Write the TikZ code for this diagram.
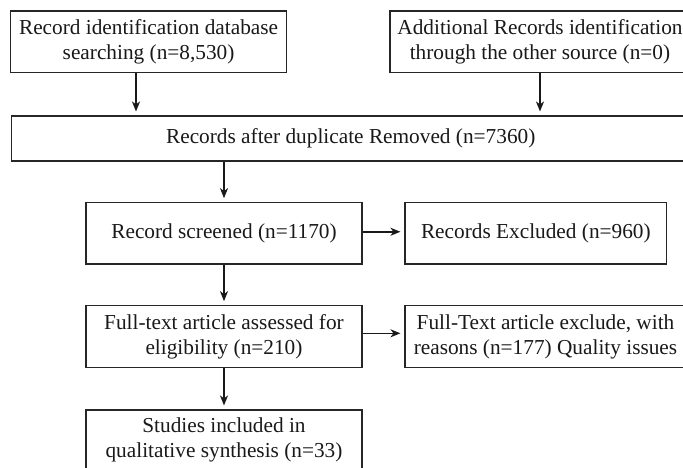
\documentclass[tikz,border=0pt]{standalone}
\usepackage{fontspec}
\setmainfont{Liberation Serif}
\usetikzlibrary{arrows.meta}
\begin{document}
\begin{tikzpicture}[x=1pt,y=1pt,
  box/.style={draw=black!85, line width=1.1pt, align=center, inner sep=0pt,
    font=\fontsize{21.3}{24.5}\selectfont, text=black!90},
  arr/.style={draw=black!90, line width=1.6pt, shorten >=4pt,
    -{Stealth[length=10pt,width=8pt,inset=3pt]}}]
\clip (0,0) rectangle (683,-467);
\useasboundingbox (0,0) rectangle (683,-467);
\fill[white] (0,0) rectangle (683,-467);
\node[box, minimum width=276.2pt, minimum height=61.7pt] (b1) at (148.6,-41.85)
  {Record identification database\\searching (n=8,530)};
\node[box, minimum width=300pt, minimum height=61.7pt] (b2) at (540,-41.85)
  {Additional Records identification\\through the other source (n=0)};
\node[box, minimum width=678.5pt, minimum height=45pt] (b3) at (350.75,-138.5)
  {Records after duplicate Removed (n=7360)};
\node[box, minimum width=276pt, minimum height=61.3pt] (b4) at (224,-233.35)
  {Record screened (n=1170)};
\node[box, minimum width=261.7pt, minimum height=61.3pt] (b5) at (535.85,-233.35)
  {Records Excluded (n=960)};
\node[box, minimum width=276pt, minimum height=62pt] (b6) at (224,-336.7)
  {Full-text article assessed for\\eligibility (n=210)};
\node[box, minimum width=281pt, minimum height=62pt] (b7) at (545.5,-336.7)
  {Full-Text article exclude, with\\reasons (n=177) Quality issues};
\node[box, minimum width=276pt, minimum height=60pt] (b8) at (224,-440)
  {Studies included in\\qualitative synthesis (n=33)};
\draw[arr] ([xshift=-12.6pt]b1.south) -- ([xshift=-12.6pt]b1.south |- b3.north);
\draw[arr] (b2.south) -- (b2.south |- b3.north);
\draw[arr] (b3.south -| b4.north) -- (b4.north);
\draw[arr] ([yshift=1.6pt]b4.east) -- ([yshift=1.6pt]b4.east -| b5.west);
\draw[arr] (b4.south) -- (b6.north);
\draw[arr] ([yshift=3.4pt]b6.east) -- ([yshift=3.4pt]b6.east -| b7.west);
\draw[arr] (b6.south) -- (b8.north);
\end{tikzpicture}
\end{document}
